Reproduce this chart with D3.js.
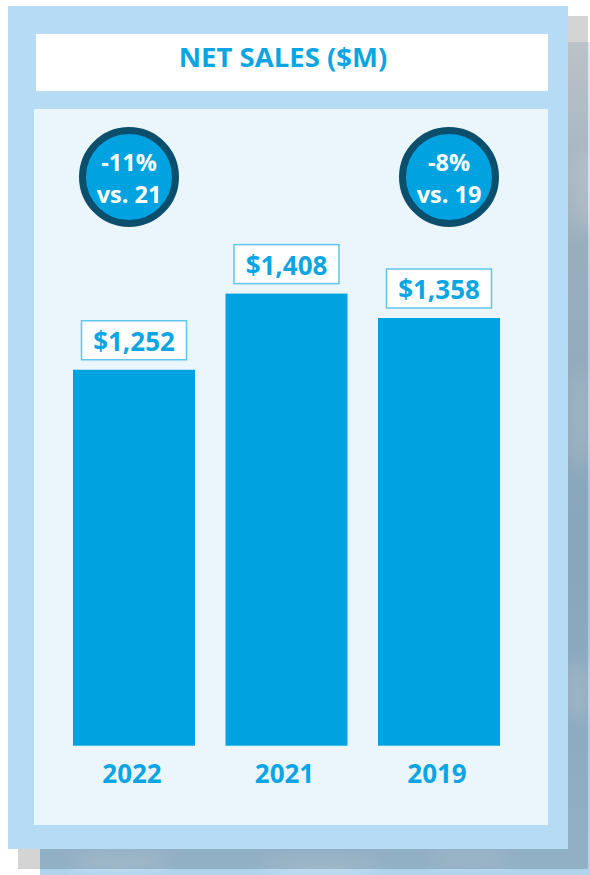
<!DOCTYPE html>
<html>
<head>
<meta charset="utf-8">
<style>
body { margin: 0; background: #fff; }
text { font-family: "Open Sans", "DejaVu Sans", sans-serif; font-weight: 700; }
</style>
</head>
<body>
<script src="https://cdn.jsdelivr.net/npm/d3@7"></script>
<script>
// data
var years = ["2022", "2021", "2019"];
var sales = [1252, 1408, 1358];
var badgeYears = ["2022", "2019"];
var badgeTop = ["-11%", "-8%"];
var badgeBottom = ["vs. 21", "vs. 19"];
var title = "NET SALES ($M)";

var width = 590, height = 875;
var blue = "#00a3e0", textBlue = "#0ba5e3";

var svg = d3.select("body").append("svg")
    .attr("width", width)
    .attr("height", height);

var defs = svg.append("defs");
var grad = defs.append("linearGradient")
    .attr("id", "sky")
    .attr("x1", 0).attr("y1", 0).attr("x2", 0).attr("y2", 1);
grad.append("stop").attr("offset", "0%").attr("stop-color", "#e2eaf1");
grad.append("stop").attr("offset", "25%").attr("stop-color", "#b9d2e4");
grad.append("stop").attr("offset", "60%").attr("stop-color", "#a3c8e2");
grad.append("stop").attr("offset", "100%").attr("stop-color", "#b0d4ee");
defs.append("filter").attr("id", "blur")
    .attr("x", "-50%").attr("y", "-50%").attr("width", "200%").attr("height", "200%")
    .append("feGaussianBlur").attr("stdDeviation", 8);
defs.append("clipPath").attr("id", "skyclip")
    .append("rect").attr("x", 40).attr("y", 42).attr("width", 550).attr("height", 833);

// sky photo behind the card
var sky = svg.append("g").attr("clip-path", "url(#skyclip)");
sky.append("rect")
    .attr("x", 40).attr("y", 42).attr("width", 550).attr("height", 833)
    .attr("fill", "url(#sky)");
var clouds = [[585, 190, 14, 40], [580, 420, 10, 50], [578, 690, 12, 30], [120, 862, 50, 8], [320, 866, 60, 7], [470, 860, 40, 6]];
sky.selectAll("ellipse").data(clouds).enter().append("ellipse")
    .attr("cx", function (d) { return d[0]; })
    .attr("cy", function (d) { return d[1]; })
    .attr("rx", function (d) { return d[2]; })
    .attr("ry", function (d) { return d[3]; })
    .attr("fill", "#ffffff")
    .attr("opacity", 0.25)
    .attr("filter", "url(#blur)");

// shadow
svg.append("rect")
    .attr("x", 18).attr("y", 16).attr("width", 570).attr("height", 853)
    .attr("fill", "#000").attr("opacity", 0.17);

// card
svg.append("rect")
    .attr("x", 8).attr("y", 6).attr("width", 560).attr("height", 843)
    .attr("fill", "#b5dcf4");
svg.append("rect")
    .attr("x", 36).attr("y", 34).attr("width", 512).attr("height", 57)
    .attr("fill", "#ffffff");
svg.append("rect")
    .attr("x", 34).attr("y", 109).attr("width", 514).attr("height", 716)
    .attr("fill", "#eaf5fc");

svg.append("text")
    .attr("x", 283).attr("y", 67)
    .attr("text-anchor", "middle")
    .attr("font-size", 27.5)
    .attr("fill", textBlue)
    .text(title);

// scales
var x = d3.scaleBand()
    .domain(years)
    .range([73, 500])
    .paddingInner(0.2);
var y = d3.scaleLinear()
    .domain([482, 1408])
    .range([745.7, 293.6]);
var fmt = d3.format("$,");

var bars = svg.selectAll(".bar").data(years).enter().append("g").attr("class", "bar");
bars.append("rect")
    .attr("x", function (d) { return x(d); })
    .attr("y", function (d, i) { return y(sales[i]); })
    .attr("width", x.bandwidth())
    .attr("height", function (d, i) { return y(482) - y(sales[i]); })
    .attr("fill", blue);

// value boxes
var bw = 105, bh = 39;
bars.append("rect")
    .attr("x", function (d) { return x(d) + x.bandwidth() / 2 - bw / 2; })
    .attr("y", function (d, i) { return y(sales[i]) - 10 - bh; })
    .attr("width", bw).attr("height", bh)
    .attr("fill", "#ffffff")
    .attr("stroke", "#62c4ee")
    .attr("stroke-width", 1.5);
bars.append("text")
    .attr("x", function (d) { return x(d) + x.bandwidth() / 2; })
    .attr("y", function (d, i) { return y(sales[i]) - 10 - bh + 30; })
    .attr("text-anchor", "middle")
    .attr("font-size", 26)
    .attr("fill", textBlue)
    .text(function (d, i) { return fmt(sales[i]); });

// year labels
bars.append("text")
    .attr("x", function (d) { return x(d) + x.bandwidth() / 2 - 2; })
    .attr("y", 783)
    .attr("text-anchor", "middle")
    .attr("font-size", 26)
    .attr("fill", textBlue)
    .text(function (d) { return d; });

// badges
var badgeDx = [-5, 10];
var badges = svg.selectAll(".badge").data(badgeYears).enter().append("g")
    .attr("class", "badge")
    .attr("transform", function (d, i) {
        return "translate(" + (x(d) + x.bandwidth() / 2 + badgeDx[i]) + ",177)";
    });
badges.append("circle")
    .attr("r", 46.5)
    .attr("fill", blue)
    .attr("stroke", "#0b4f6c")
    .attr("stroke-width", 7);
badges.append("text")
    .attr("y", -6)
    .attr("text-anchor", "middle")
    .attr("font-size", 23.5)
    .attr("fill", "#ffffff")
    .text(function (d, i) { return badgeTop[i]; });
badges.append("text")
    .attr("y", 26)
    .attr("text-anchor", "middle")
    .attr("font-size", 23.5)
    .attr("fill", "#ffffff")
    .text(function (d, i) { return badgeBottom[i]; });
</script>
</body>
</html>
